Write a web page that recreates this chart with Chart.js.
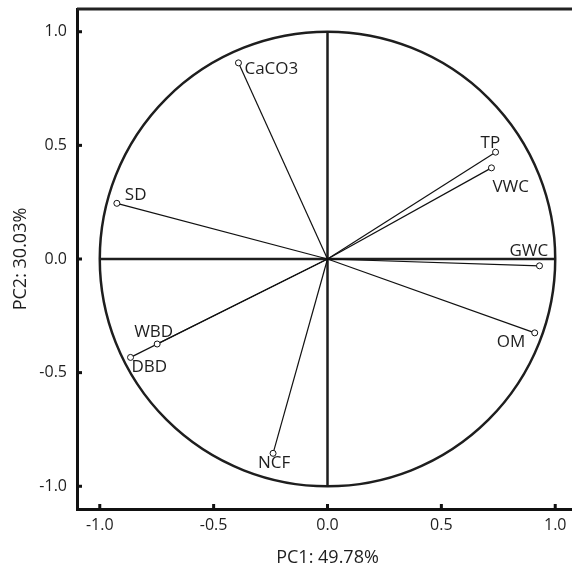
<!DOCTYPE html>
<html>
<head>
<meta charset="utf-8">
<script src="https://cdn.jsdelivr.net/npm/chart.js@4.4.4/dist/chart.umd.min.js"></script>
<style>
  html, body { margin: 0; padding: 0; background: #fff; overflow: hidden; width: 572px; height: 566px; }
  canvas { display: block; }
</style>
</head>
<body>
<canvas id="pca" width="585" height="566"></canvas>
<script>
// PCA loadings (correlation circle)
const variables = ["CaCO3", "SD", "TP", "VWC", "GWC", "OM", "WBD", "DBD", "NCF"]
const pc1 = [-0.391, -0.925, 0.738, 0.720, 0.931, 0.910, -0.748, -0.865, -0.239]
const pc2 = [0.863, 0.245, 0.470, 0.401, -0.030, -0.325, -0.374, -0.433, -0.855]
const tickValues = [-1.0, -0.5, 0.0, 0.5, 1.0]
const circleRadius = 1

// label placement: [dx to text left edge, dy to text middle] in px
const labelOffsets = [[6, 6], [8, -8], [-15, -9], [1, 19], [-30, -15], [-38, 9], [-23, -12], [1, 10], [-15, 9.5]]

const INK = "#1e1e1e"
const FONT = "'Open Sans', sans-serif"

const decor = {
  id: "decor",
  beforeDatasetsDraw(chart) {
    const {ctx, scales: {x, y}} = chart
    const x0 = x.getPixelForValue(0), y0 = y.getPixelForValue(0)
    const rx = x.getPixelForValue(circleRadius) - x0
    const ry = y0 - y.getPixelForValue(circleRadius)
    ctx.save()
    ctx.strokeStyle = INK
    ctx.lineWidth = 2.5
    ctx.beginPath()
    ctx.ellipse(x0, y0, rx, ry, 0, 0, Math.PI * 2)
    ctx.stroke()
    // axis lines through origin
    ctx.beginPath()
    ctx.moveTo(x.getPixelForValue(-circleRadius), y0)
    ctx.lineTo(x.getPixelForValue(circleRadius), y0)
    ctx.moveTo(x0, y.getPixelForValue(circleRadius))
    ctx.lineTo(x0, y.getPixelForValue(-circleRadius))
    ctx.stroke()
    ctx.restore()
  },
  afterDatasetsDraw(chart) {
    const {ctx, scales: {x, y}} = chart
    ctx.save()
    ctx.fillStyle = INK
    ctx.font = "17px " + FONT
    ctx.textAlign = "left"
    ctx.textBaseline = "middle"
    variables.forEach((name, i) => {
      const px = x.getPixelForValue(pc1[i])
      const py = y.getPixelForValue(pc2[i])
      ctx.fillText(name, px + labelOffsets[i][0], py + labelOffsets[i][1])
    })
    ctx.restore()
  },
  afterDraw(chart) {
    const {ctx, chartArea: a, scales: {x, y}} = chart
    ctx.save()
    // top and right frame
    ctx.strokeStyle = "#222"
    ctx.lineWidth = 3
    ctx.beginPath()
    ctx.moveTo(a.left, a.top)
    ctx.lineTo(a.right, a.top)
    ctx.lineTo(a.right, a.bottom)
    ctx.stroke()
    // inward tick marks
    ctx.fillStyle = "#111"
    x.ticks.forEach(t => {
      const px = x.getPixelForValue(t.value)
      ctx.fillRect(px - 1.5, a.bottom - 5, 3, 6)
    })
    y.ticks.forEach(t => {
      const py = y.getPixelForValue(t.value)
      ctx.fillRect(a.left - 1, py - 1.5, 6, 3)
    })
    ctx.restore()
  }
}

const datasets = variables.map((name, i) => ({
  label: name,
  data: [{x: 0, y: 0}, {x: pc1[i], y: pc2[i]}],
  showLine: true,
  borderColor: "#111",
  borderWidth: 1.2,
  pointRadius: [0, 3],
  pointBorderWidth: 1,
  pointBorderColor: "#111",
  pointBackgroundColor: "#fff"
}))

const axisOpts = (title, isX) => ({
  type: "linear",
  min: -1.1,
  max: 1.1,
  afterBuildTicks: (s) => { s.ticks = tickValues.map(v => ({value: v})) },
  afterFit: (s) => {
    if (isX) s.height = 57; else s.width = 77
    s.paddingTop = s.paddingBottom = s.paddingLeft = s.paddingRight = 0
  },
  ticks: {
    color: INK,
    font: {family: FONT, size: 16},
    padding: isX ? 7 : 10,
    maxRotation: 0,
    autoSkip: false,
    callback: (v) => Number(v).toFixed(1)
  },
  grid: {drawOnChartArea: false, drawTicks: false},
  border: {display: true, width: 3, color: "#111"},
  title: {
    display: true,
    text: title,
    color: INK,
    font: {family: FONT, size: 18},
    padding: isX ? {top: 0, bottom: -3} : {top: 10, bottom: 0}
  }
})

new Chart(document.getElementById("pca"), {
  type: "scatter",
  data: {datasets},
  options: {
    responsive: false,
    animation: false,
    devicePixelRatio: 1,
    layout: {padding: {top: 9, right: 7, left: 0, bottom: 0}},
    plugins: {legend: {display: false}, tooltip: {enabled: false}},
    scales: {
      x: axisOpts("PC1: 49.78%", true),
      y: axisOpts("PC2: 30.03%", false)
    }
  },
  plugins: [decor]
})
</script>
</body>
</html>
